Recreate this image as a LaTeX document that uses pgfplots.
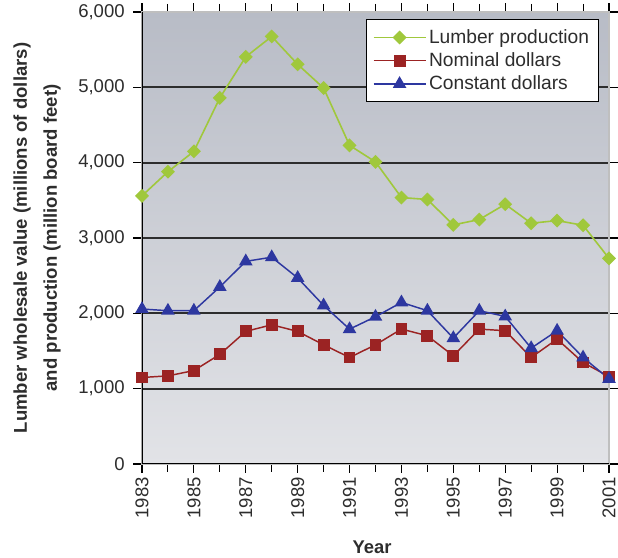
\documentclass[border=0pt]{standalone}
\usepackage{fontspec}
\setmainfont{Liberation Sans}
\usepackage{pgfplots}
\pgfplotsset{compat=1.18}
\definecolor{lumber}{RGB}{160,200,60}
\definecolor{nominal}{RGB}{155,35,35}
\definecolor{constant}{RGB}{45,55,160}
\definecolor{gridc}{RGB}{45,45,45}
\definecolor{bgtop}{RGB}{184,188,198}
\definecolor{bgbot}{RGB}{226,227,231}
\definecolor{ticktext}{RGB}{45,45,45}

\pgfplotstableread{
year lumber nominal constant
1983 3560 1148 2057
1984 3880 1170 2035
1985 4150 1240 2035
1986 4860 1455 2350
1987 5405 1760 2690
1988 5675 1848 2745
1989 5305 1760 2470
1990 4990 1582 2105
1991 4230 1414 1790
1992 4010 1582 1955
1993 3537 1791 2145
1994 3511 1702 2035
1995 3174 1436 1671
1996 3245 1791 2035
1997 3448 1769 1959
1998 3196 1414 1538
1999 3231 1658 1769
2000 3169 1347 1414
2001 2730 1161 1130
}\datatable

\begin{document}
\begin{tikzpicture}
\begin{axis}[
  scale only axis, width=350.25pt, height=339pt,
  xmin=1983, xmax=2001, ymin=0, ymax=6000,
  xtick={1983,1985,...,2001}, minor xtick={1984,1986,...,2000},
  ytick={0,1000,...,6000},
  tick align=outside, major tick length=6.5pt, minor tick length=6pt,
  xtick style={black, line width=0.8pt}, ytick style={black, line width=0.8pt},
  minor tick style={black, line width=0.8pt},
  x tick label style={rotate=90, anchor=east, font=\fontsize{13.9}{14}\selectfont, text=ticktext,
    /pgf/number format/1000 sep={}, /pgf/number format/assume math mode=true},
  y tick label style={font=\fontsize{13.9}{14}\selectfont, text=ticktext, xshift=-3pt,
    /pgf/number format/1000 sep={,}, /pgf/number format/assume math mode=true},
  ymajorgrids,
  grid style={draw=gridc, line width=1.3pt},
  major grid style={draw=gridc, line width=1.3pt},
  axis line style={black!25, line width=1pt},
  axis background/.style={top color=bgtop, bottom color=bgbot},
  xlabel={Year},
  every axis x label/.style={at={(axis description cs:0.4925,-0.184)}, anchor=center,
    font=\fontsize{13.8}{14}\bfseries\selectfont, text=ticktext},
  ylabel={Lumber wholesale value (millions of dollars)\\and production (million board feet)},
  every axis y label/.style={at={(axis description cs:-0.2248,0.5)}, anchor=center, rotate=90,
    align=center, font=\fontsize{13.9}{22.5}\bfseries\selectfont, text=ticktext},
  legend image code/.code={\draw[mark repeat=2,mark phase=2,#1] plot coordinates {(0pt,0pt)(19.5pt,0pt)(39pt,0pt)};},
  legend style={at={(rel axis cs:0.9786,0.9845)}, anchor=north east, draw=black, line width=0.8pt,
    fill=white, font=\fontsize{14.4}{16}\selectfont, text=ticktext, cells={anchor=west},
    inner xsep=5pt, inner ysep=5.5pt, row sep=1.5pt},
]
\addplot[lumber, line width=1.2pt, mark=square*, mark size=3.1pt, mark options={rotate=45, solid}] table[x=year,y=lumber] {\datatable};
\addlegendentry{Lumber production}
\addplot[nominal, line width=1.1pt, mark=square*, mark size=3.9pt, mark options={solid}] table[x=year,y=nominal] {\datatable};
\addlegendentry{Nominal dollars}
\addplot[constant, line width=1.1pt, mark=triangle*, mark size=4.8pt, mark options={solid}] table[x=year,y=constant] {\datatable};
\addlegendentry{Constant dollars}
\draw[black, line width=1.1pt] (rel axis cs:0,1) -- (rel axis cs:0,0) -- (rel axis cs:1,0);
\coordinate (BL) at (rel axis cs:0,0);
\coordinate (TR) at (rel axis cs:1,1);
\end{axis}
\pgfresetboundingbox
\path[use as bounding box] ([xshift=-106.5pt,yshift=-70.5pt]BL) rectangle ([xshift=6.75pt,yshift=9pt]TR);
\end{tikzpicture}
\end{document}
